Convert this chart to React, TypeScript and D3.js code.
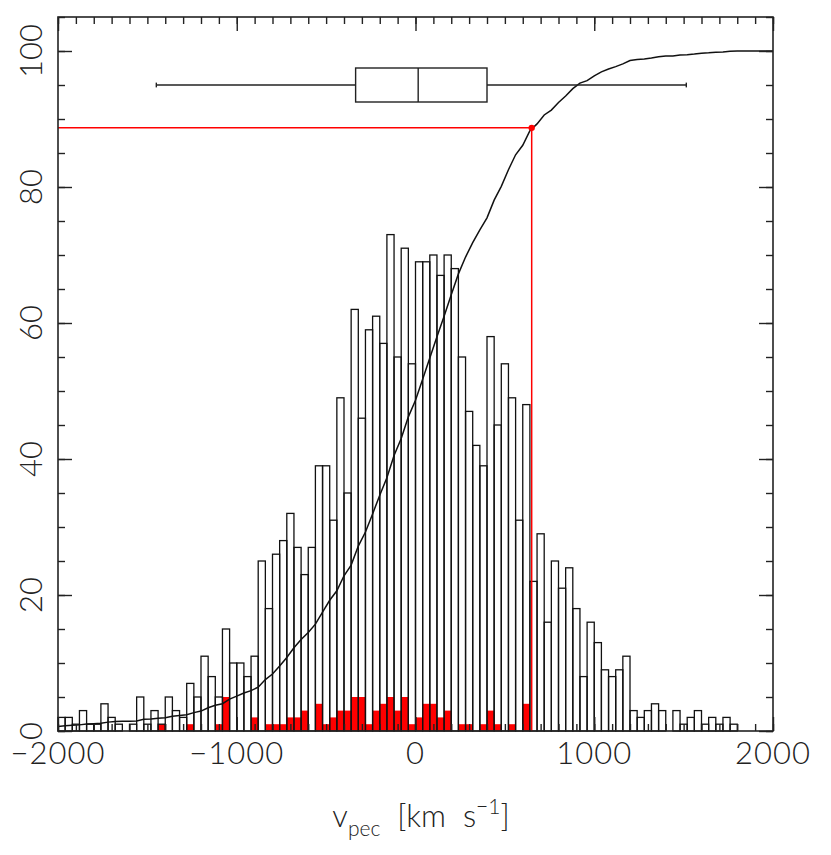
import React, { useEffect, useRef } from 'react';
import * as d3 from 'd3';

// 40 km/s bins from -2000 to 2000
const binLo = d3.range(-2000, 2000, 40);
const totalCounts = [
  2, 2, 1, 3, 1, 1, 4, 2, 1, 0,
  1, 5, 1, 3, 1, 5, 3, 2, 7, 5,
  11, 8, 5, 15, 10, 10, 8, 11, 25, 18,
  26, 28, 32, 27, 23, 27, 39, 39, 31, 49,
  35, 62, 46, 59, 61, 57, 73, 55, 71, 54,
  69, 69, 70, 67, 70, 68, 55, 47, 42, 39,
  58, 45, 54, 49, 31, 48, 22, 29, 16, 25,
  21, 24, 18, 8, 16, 13, 9, 8, 9, 11,
  3, 2, 3, 4, 3, 0, 3, 1, 2, 3,
  1, 2, 1, 2, 1, 0, 0, 0, 0, 0,
];
const redCounts = [
  0, 0, 0, 0, 0, 0, 0, 0, 0, 0,
  0, 0, 0, 0, 1, 0, 0, 0, 1, 0,
  0, 0, 1, 5, 0, 0, 0, 2, 0, 1,
  1, 1, 2, 2, 3, 0, 4, 1, 2, 3,
  3, 5, 5, 1, 3, 4, 5, 3, 5, 1,
  2, 4, 4, 2, 3, 0, 1, 1, 0, 1,
  3, 1, 0, 1, 0, 4, 0, 0, 0, 0,
  0, 0, 0, 0, 0, 0, 0, 0, 0, 0,
  0, 0, 0, 0, 0, 0, 0, 0, 0, 0,
  0, 0, 0, 0, 0, 0, 0, 0, 0, 0,
];
const belowRange = 15; // objects with v < -2000 (cdf starts above 0)

// box plot of the velocities
const whiskerLo = -1450;
const quart1 = -335;
const medianVel = 15;
const quart3 = 400;
const whiskerHi = 1515;

// highlighted point on the cumulative curve
const markerVel = 650;
const markerPct = 88.7;

const xTickLabels = [-2000, -1000, 0, 1000, 2000];
const yTickLabels = [0, 20, 40, 60, 80, 100];

const FONT = "Lato, 'Liberation Sans', Arial, sans-serif";

const App = () => {
  const chartRef = useRef<SVGSVGElement | null>(null);

  useEffect(() => {
    const svg = d3.select(chartRef.current);
    svg.selectAll('*').remove();

    const left = 58, right = 773, top = 17, bottom = 731;
    const binW = 40;

    const x = d3.scaleLinear().domain([-2000, 2000]).range([left, right]);
    const y = d3.scaleLinear().domain([0, 105]).range([bottom, top]);

    const bins = binLo.map((lo, i) => ({ lo, total: totalCounts[i], red: redCounts[i] }));

    // red sub-sample fill
    svg.append('g')
      .selectAll('rect')
      .data(bins.filter(d => d.red > 0))
      .enter()
      .append('rect')
      .attr('x', d => x(d.lo))
      .attr('y', d => y(d.red))
      .attr('width', d => x(d.lo + binW) - x(d.lo))
      .attr('height', d => y(0) - y(d.red))
      .attr('fill', '#ff0000');

    // histogram outlines
    svg.append('g')
      .selectAll('rect')
      .data(bins.filter(d => d.total > 0))
      .enter()
      .append('rect')
      .attr('x', d => x(d.lo))
      .attr('y', d => y(d.total))
      .attr('width', d => x(d.lo + binW) - x(d.lo))
      .attr('height', d => y(0) - y(d.total))
      .attr('fill', 'none')
      .attr('stroke', '#111')
      .attr('stroke-width', 1.3);

    // cumulative percentage curve
    const cum = d3.cumsum(totalCounts);
    const total = belowRange + d3.sum(totalCounts);
    const cdf: [number, number][] = [[-2000, (belowRange / total) * 100]];
    binLo.forEach((lo, i) => cdf.push([lo + binW, ((belowRange + cum[i]) / total) * 100]));

    svg.append('path')
      .datum(cdf)
      .attr('fill', 'none')
      .attr('stroke', '#111')
      .attr('stroke-width', 1.5)
      .attr('d', d3.line<[number, number]>().x(d => x(d[0])).y(d => y(d[1])));

    // box plot
    const boxY = 95, boxHalf = 2.5, capHalf = 0.35;
    const bp = svg.append('g').attr('stroke', '#222').attr('stroke-width', 1.4).attr('fill', 'none');
    bp.append('line').attr('x1', x(whiskerLo)).attr('x2', x(quart1)).attr('y1', y(boxY)).attr('y2', y(boxY));
    bp.append('line').attr('x1', x(quart3)).attr('x2', x(whiskerHi)).attr('y1', y(boxY)).attr('y2', y(boxY));
    [whiskerLo, whiskerHi].forEach(v => {
      bp.append('line').attr('x1', x(v)).attr('x2', x(v))
        .attr('y1', y(boxY - capHalf)).attr('y2', y(boxY + capHalf));
    });
    bp.append('rect')
      .attr('x', x(quart1)).attr('y', y(boxY + boxHalf))
      .attr('width', x(quart3) - x(quart1)).attr('height', y(boxY - boxHalf) - y(boxY + boxHalf))
      .attr('fill', '#fff');
    bp.append('line').attr('x1', x(medianVel)).attr('x2', x(medianVel))
      .attr('y1', y(boxY + boxHalf)).attr('y2', y(boxY - boxHalf));

    // red marker lines
    const red = svg.append('g').attr('stroke', '#ff0000').attr('stroke-width', 1.5);
    red.append('line').attr('x1', x(-2000)).attr('x2', x(markerVel)).attr('y1', y(markerPct)).attr('y2', y(markerPct));
    red.append('line').attr('x1', x(markerVel)).attr('x2', x(markerVel)).attr('y1', y(markerPct)).attr('y2', y(0));
    svg.append('circle').attr('cx', x(markerVel)).attr('cy', y(markerPct)).attr('r', 3.2).attr('fill', '#ff0000');

    // ticks on all four sides, pointing inwards
    const axes = svg.append('g');
    const minorX = d3.range(-2000, 2001, 100);
    const majorX = d3.range(-2000, 2001, 1000);
    const minorY = d3.range(0, 106, 5);
    const majorY = d3.range(0, 106, 20);
    const addAxis = (axis: d3.Axis<d3.NumberValue>, tx: number, ty: number) => {
      const g = axes.append('g').attr('transform', `translate(${tx},${ty})`).call(axis);
      g.select('.domain').remove();
      g.selectAll('line').attr('stroke', '#222').attr('stroke-width', 1.4);
      g.selectAll('text').remove();
    };
    addAxis(d3.axisBottom(x).tickValues(minorX).tickSize(-7).tickFormat(() => ''), 0, bottom);
    addAxis(d3.axisBottom(x).tickValues(majorX).tickSize(-14).tickFormat(() => ''), 0, bottom);
    addAxis(d3.axisTop(x).tickValues(minorX).tickSize(-7).tickFormat(() => ''), 0, top);
    addAxis(d3.axisTop(x).tickValues(majorX).tickSize(-14).tickFormat(() => ''), 0, top);
    addAxis(d3.axisLeft(y).tickValues(minorY).tickSize(-7).tickFormat(() => ''), left, 0);
    addAxis(d3.axisLeft(y).tickValues(majorY).tickSize(-14).tickFormat(() => ''), left, 0);
    addAxis(d3.axisRight(y).tickValues(minorY).tickSize(-7).tickFormat(() => ''), right, 0);
    addAxis(d3.axisRight(y).tickValues(majorY).tickSize(-14).tickFormat(() => ''), right, 0);

    // frame
    svg.append('rect')
      .attr('x', left).attr('y', top)
      .attr('width', right - left).attr('height', bottom - top)
      .attr('fill', 'none').attr('stroke', '#222').attr('stroke-width', 1.6);

    // tick labels
    svg.append('g')
      .selectAll('text')
      .data(xTickLabels)
      .enter()
      .append('text')
      .attr('x', d => x(d))
      .attr('y', bottom + 33)
      .attr('text-anchor', 'middle')
      .attr('font-family', FONT)
      .attr('font-weight', 300)
      .attr('font-size', 31)
      .attr('letter-spacing', 1)
      .attr('fill', '#222')
      .text(d => (d < 0 ? '\u2212' + Math.abs(d) : String(d)));

    svg.append('g')
      .selectAll('text')
      .data(yTickLabels)
      .enter()
      .append('text')
      .attr('transform', d => `translate(${left - 16},${y(d)}) rotate(-90)`)
      .attr('text-anchor', 'middle')
      .attr('font-family', FONT)
      .attr('font-weight', 300)
      .attr('font-size', 31)
      .attr('fill', '#222')
      .text(d => String(d));

    // axis title: v_pec [km s^-1]
    const title = svg.append('text')
      .attr('x', 421)
      .attr('y', 827)
      .attr('text-anchor', 'middle')
      .attr('font-family', FONT)
      .attr('font-weight', 300)
      .attr('font-size', 31)
      .attr('fill', '#222')
      .style('white-space', 'pre');
    title.append('tspan').text('v');
    title.append('tspan').attr('font-size', 21).attr('dy', 9).text('pec');
    title.append('tspan').attr('dy', -9).text('  [km  s');
    title.append('tspan').attr('font-size', 21).attr('dy', -13).text('\u22121');
    title.append('tspan').attr('dy', 13).text(']');
  }, []);

  return (
    <div style={{ position: 'absolute', left: 0, top: 0 }}>
      <svg ref={chartRef} width={831} height={855} style={{ display: 'block', background: '#fff' }} />
    </div>
  );
};

export default App;
